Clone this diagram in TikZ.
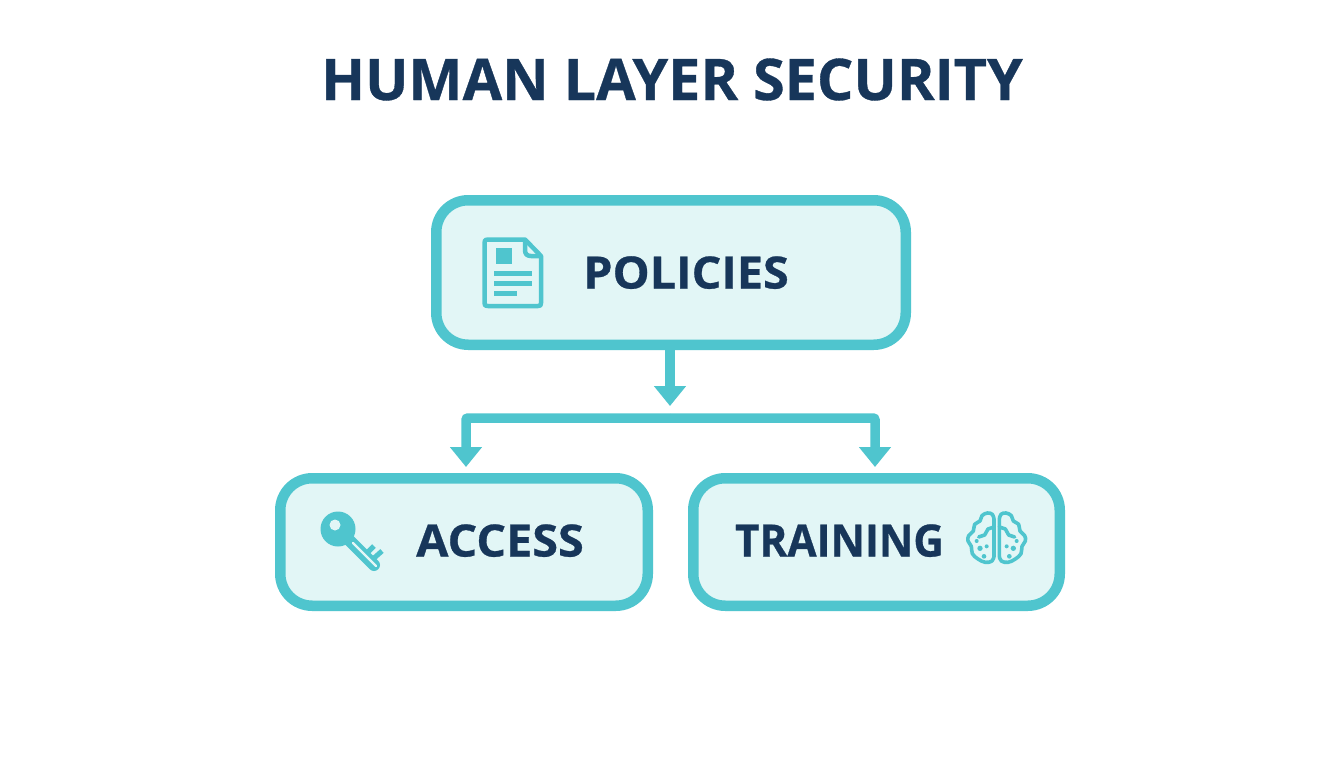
\documentclass[tikz,border=0pt]{standalone}
\usepackage{fontspec}
\newfontface\heavy{Open Sans Bold}[FakeBold=0.6]
\usetikzlibrary{arrows.meta}
\definecolor{teal}{HTML}{4FC5CE}
\definecolor{pale}{HTML}{E2F6F6}
\definecolor{navy}{HTML}{17365A}
\tikzset{
  box/.style={draw=teal,fill=pale,line width=10.5pt,rounded corners=32pt,inner sep=0pt},
  lbl/.style={text=navy,font=\fontsize{44.5}{44.5}\heavy,inner sep=0pt,anchor=base},
  flow/.style={draw=teal,line width=9.5pt,-{Triangle[length=20pt,width=31pt]}},
  icon/.style={draw=teal,line width=4.5pt,line join=round},
  brainline/.style={draw=teal,line width=3.6pt,line cap=round,line join=round},
  braindot/.style={fill=teal,draw=none}
}
\begin{document}
\begin{tikzpicture}[x=1pt,y=-1pt]
\useasboundingbox (0,0) rectangle (1344,768);
\fill[white] (0,0) rectangle (1344,768);
\node[text=navy,font=\fontsize{57.4}{57.4}\heavy,inner sep=0pt,anchor=base] (title) at (672,100) {HUMAN LAYER SECURITY};
\node[box,minimum width=469.5pt,minimum height=144.5pt] (policies) at (671,272.5) {};
\node[box,minimum width=367.5pt,minimum height=127.5pt] (access) at (464,542) {};
\node[box,minimum width=366.5pt,minimum height=127.5pt] (training) at (876.5,542) {};
\node[lbl] (tp) at (686,288.5) {\scalebox{1.05}[1]{POLICIES}};
\node[lbl] (ta) at (500,556.5) {\scalebox{1.05}[1]{ACCESS}};
\node[lbl] (tt) at (839.5,556.5) {\scalebox{0.95}[1]{TRAINING}};
\coordinate (j) at (670,406);
\coordinate (bar) at (670,418);
\draw[flow] ([xshift=-1pt]policies.south) -- (j);
\draw[flow,rounded corners=2pt,shorten >=6pt] (bar) -| ([xshift=2pt]access.north);
\draw[flow,rounded corners=2pt,shorten >=6pt] (bar) -| ([xshift=-1.5pt]training.north);
% document icon
\draw[icon] (484.5,243) .. controls (484.5,240) and (485,239.5) .. (488,239.5) -- (525,239.5) -- (541,256) -- (541,303) .. controls (541,305.5) and (540.5,306) .. (538,306) -- (488,306) .. controls (485,306) and (484.5,305.5) .. (484.5,303) -- cycle;
\draw[icon] (525,239.5) -- (525,250) .. controls (525,254) and (527,256) .. (531,256) -- (541,256);
\fill[teal] (496,248) rectangle (512,264);
\fill[teal] (494,271) rectangle (532,275.5);
\fill[teal] (494,281) rectangle (532,285.5);
\fill[teal] (494,291) rectangle (517,295.5);
% key icon
\draw[teal,line width=12pt,line cap=round] (340,531) -- (374,565);
\fill[teal] (338,529) circle[radius=17.5];
\fill[pale] (335,525) circle[radius=5.5];
\draw[pale,line width=2.4pt,line cap=round] (353,543) -- (376,566);
\draw[teal,line width=5pt] (367,553) -- (374,546);
\draw[teal,line width=5pt] (373,559) -- (382,551);
% brain icon
\begin{scope}[shift={(960,505)},x=0.3333pt,y=-0.3333pt]
\foreach \s/\o in {1/0,-1/220}{
\begin{scope}[shift={(\o,0)},xscale=\s]
\draw[brainline] plot[smooth,tension=0.65] coordinates {(102,42) (97,28) (82,24) (66,32) (60,48) (44,58) (40,78) (26,92) (24,108) (34,124) (37,146) (54,162) (76,172) (96,168) (102,154)} -- cycle;
\draw[brainline] (102,66) -- (84,72) -- (74,90) -- (56,96);
\fill[braindot] (50,108) circle[radius=6];
\fill[braindot] (60,130) circle[radius=8];
\fill[braindot] (80,124) circle[radius=6];
\fill[braindot] (72,154) circle[radius=7];
\end{scope}}
\end{scope}
\end{tikzpicture}
\end{document}
